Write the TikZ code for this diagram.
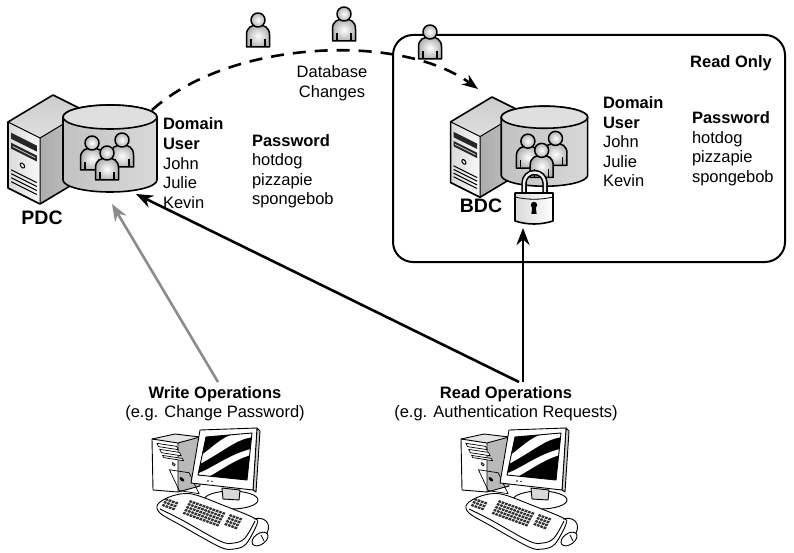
\documentclass[tikz,border=0pt]{standalone}
\usepackage{fontspec}
\setmainfont{Liberation Sans}
\usetikzlibrary{arrows.meta}

\definecolor{opgray}{RGB}{140,140,140}

\tikzset{
  outline/.style={draw=black, line width=1.6pt, line join=round},
  thinline/.style={draw=black, line width=0.9pt, line join=round},
  txt/.style={inner sep=0pt, outer sep=0pt, align=left, font=\fontsize{16.5}{19.5}\selectfont},
  txtbf/.style={txt, font=\fontsize{16.5}{19.5}\selectfont\bfseries},
  srvname/.style={inner sep=0pt, outer sep=0pt, font=\fontsize{19.5}{22}\selectfont\bfseries},
  oparrow/.style={line width=2.6pt, -{Stealth[length=17pt, width=13pt]}},
  syncarrow/.style={line width=2.6pt, dash pattern=on 13pt off 9pt, -{Stealth[length=16pt, width=12pt]}},
  iconfill/.style={inner color=white, outer color=gray!60},
  person/.pic={
    \path[outline, line width=1.5pt, iconfill]
      (-11.5,27) -- (-11.5,15) .. controls (-11.5,7) and (-6,5) .. (0,5)
      .. controls (6,5) and (11.5,7) .. (11.5,15) -- (11.5,27) -- cycle;
    \draw[line width=1.1pt] (-7,19) -- (-7,27) (7,19) -- (7,27);
    \path[outline, line width=1.5pt, iconfill] (0,0) circle[radius=7];
  },
}

% Tower server with its user database; origin at the back top corner of the tower
\newcommand\dbserver{%
  \path[left color=gray!65, right color=gray!45] (-13,43) -- (32,16) -- (32,82) -- (-13,109) -- cycle;
  \path[top color=gray!40, bottom color=gray!25] (0,0) -- (-45,27) -- (-13,43) -- (32,16) -- cycle;
  \path[left color=gray!30, right color=gray!5] (-45,27) -- (-13,43) -- (-13,109) -- (-45,93) -- cycle;
  \draw[line width=1pt] (-45,27) -- (-13,43) -- (32,16) (-13,43) -- (-13,109);
  \draw[outline] (0,0) -- (-45,27) -- (-45,93) -- (-13,109) -- (32,82) -- (32,16) -- cycle;
  \begin{scope}[shift={(-45,27)}, x={(32,16)}, y={(0,66)}]
    \fill[black!85] (0.1,0.14) -- (0.9,0.14) -- (0.9,0.23) -- (0.1,0.23) -- cycle;
    \fill[black!85] (0.1,0.29) -- (0.9,0.29) -- (0.9,0.38) -- (0.1,0.38) -- cycle;
    \draw[gray!40, line width=0.8pt] (0.15,0.335) -- (0.85,0.335);
    \draw[line width=1pt] (0.45,0.55) ellipse[x radius=0.07, y radius=0.035];
    \foreach \v in {0.70,0.76,0.82,0.88}
      \draw[line width=1pt] (0.1,\v) -- (0.9,\v);
  \end{scope}
  % database cylinder
  \path[outline, left color=gray!48, right color=gray!30]
    (10,22) -- (10,85) arc[start angle=180, end angle=0, x radius=47, y radius=12]
    -- (104,22) arc[start angle=0, end angle=-180, x radius=47, y radius=12] -- cycle;
  \path[outline, fill=gray!25] (57,22) ellipse[x radius=47, y radius=12];
  \pic at (39,48) {person};
  \pic at (69,45) {person};
  \pic at (54,58) {person};
}

% Desktop computer; origin at the top left of its bounding area
\newcommand\workstation{%
  % tower
  \path[fill=gray!55] (28,15) -- (50,9) -- (50,58) -- (28,64) -- cycle;
  \path[fill=gray!20] (2,11) -- (28,15) -- (50,9) -- (25,6) -- cycle;
  \path[fill=white] (2,11) -- (28,15) -- (28,64) -- (3,62) -- cycle;
  \draw[thinline] (2,11) -- (28,15) -- (50,9) (28,15) -- (28,64);
  \draw[thinline] (25,6) -- (2,11) -- (3,62) -- (28,64) -- (50,58) -- (50,9) -- cycle;
  \begin{scope}[shift={(2,11)}, x={(26,4)}, y={(1,51)}]
    \draw[line width=0.7pt, fill=white] (0.12,0.07) -- (0.88,0.07) -- (0.88,0.13) -- (0.12,0.13) -- cycle;
    \draw[line width=0.7pt, fill=white] (0.12,0.18) -- (0.88,0.18) -- (0.88,0.24) -- (0.12,0.24) -- cycle;
    \draw[line width=0.7pt, fill=white] (0.12,0.29) -- (0.88,0.29) -- (0.88,0.33) -- (0.12,0.33) -- cycle;
    \draw[line width=0.7pt] (0.4,0.43) ellipse[x radius=0.06, y radius=0.03];
    \draw[line width=0.7pt] (0.12,0.55) -- (0.88,0.55) -- (0.88,0.93) -- (0.12,0.93) -- cycle;
    \fill (0.45,0.7) ellipse[x radius=0.08, y radius=0.04];
  \end{scope}
  % monitor stand
  \draw[thinline, fill=white] (81,72) ellipse[x radius=27, y radius=9];
  \draw[thinline, fill=gray!30] (72,60) -- (90,62) -- (89,72) -- (73,71) -- cycle;
  % monitor
  \draw[thinline, fill=gray!40] (107,0) -- (110,3) -- (106,64) -- (103,62) -- cycle;
  \draw[thinline, fill=white] (50,2) -- (107,0) -- (103,62) -- (41,55) -- cycle;
  \begin{scope}
    \clip (56,9) -- (102,5) -- (97,52) -- (48,47) -- cycle;
    \fill[black] (40,0) rectangle (110,60);
    \fill[white] (44,31) .. controls (60,24) and (68,9) .. (88,5) -- (105,3) -- (105,9)
      .. controls (86,10) and (74,24) .. (44,39) -- cycle;
    \fill[white] (46,46) .. controls (64,40) and (78,26) .. (105,20) -- (105,26)
      .. controls (86,30) and (72,42) .. (56,50) -- cycle;
  \end{scope}
  \draw[thinline] (56,9) -- (102,5) -- (97,52) -- (48,47) -- cycle;
  \fill (58,53) circle[radius=0.8] (62,53.4) circle[radius=0.8];
  % keyboard
  \draw[thinline, fill=white] plot[smooth cycle, tension=0.55] coordinates
    {(8,76) (22,68) (42,66) (75,78) (104,90) (107,96) (96,116) (84,121) (70,119) (32,98) (10,85)};
  \draw[thinline] plot[smooth, tension=0.6] coordinates
    {(10,81) (32,92) (70,113) (84,115) (95,110) (105,93)};
  \begin{scope}[shift={(16,70)}, x={(1,0.36)}, y={(-0.45,1)}]
    \foreach \i in {0,...,3} \foreach \j in {0,1,2}
      \fill[black!80] (3.3*\i,3.5*\j) -- ++(2.5,0) -- ++(0,2.5) -- ++(-2.5,0) -- cycle;
  \end{scope}
  \begin{scope}[shift={(40,72)}, x={(1,0.36)}, y={(-0.45,1)}]
    \foreach \i in {0,...,10} \foreach \j in {0,...,4}
      \fill[black!80] (3.3*\i,3.5*\j) -- ++(2.5,0) -- ++(0,2.5) -- ++(-2.5,0) -- cycle;
  \end{scope}
  \begin{scope}[shift={(80,86)}, x={(1,0.36)}, y={(-0.45,1)}]
    \foreach \i in {0,...,3} \foreach \j in {0,...,3}
      \fill[black!80] (3.3*\i,3.5*\j) -- ++(2.5,0) -- ++(0,2.5) -- ++(-2.5,0) -- cycle;
  \end{scope}
  % mouse and cable
  \draw[thinline] (104,91) .. controls (114,88) and (122,95) .. (117,105);
  \draw[thinline, fill=white, rotate around={35:(110,111)}] (110,111) ellipse[x radius=9, y radius=5.5];
  \draw[line width=0.7pt] (111,107) -- (114,113);
}

\begin{document}
\begin{tikzpicture}[x=1pt, y=-1pt]
\path[fill=white] (0,0) rectangle (794,553);
\useasboundingbox (0,0) rectangle (794,553);

% read-only region of the backup controller
\draw[line width=2pt, rounded corners=20pt] (393,35) rectangle (785,262);
\node[txtbf, anchor=base] (readonly) at (731,68) {Read Only};

% primary and backup domain controllers
\begin{scope}[shift={(53,95)}] \dbserver \end{scope}
\begin{scope}[shift={(492,97)}, scale=0.92] \dbserver \end{scope}
\node[srvname, anchor=base] (pdc) at (42,225) {PDC};
\node[srvname, anchor=base] (bdc) at (481,213) {BDC};

% padlock on the backup database
\draw[line width=5.5pt] (524,195) -- (524,183) arc[start angle=180, end angle=360, radius=10.5] -- (545,195);
\draw[gray!15, line width=2.4pt] (524,195) -- (524,183) arc[start angle=180, end angle=360, radius=10.5] -- (545,195);
\path[outline, left color=gray!30, right color=white]
  (515,193) -- (553,193) -- (553,221) .. controls (540,225) and (528,225) .. (515,221) -- cycle;
\draw[line width=0.8pt] (515,197) .. controls (528,200) and (540,200) .. (553,197);
\fill (534,205) circle[radius=3.2];
\fill (532.3,206) -- (535.7,206) -- (536.6,214) -- (531.4,214) -- cycle;

% account tables (multi-line nodes sit on the baseline of their last line)
\node[txt, anchor=base west] (pdcusers) at (163,208)
  {\textbf{Domain}\\\textbf{User}\\John\\Julie\\Kevin};
\node[txt, anchor=base west] (pdcpw) at (252,204.5)
  {\textbf{Password}\\hotdog\\pizzapie\\spongebob};
\node[txt, anchor=base west] (bdcusers) at (603,187)
  {\textbf{Domain}\\\textbf{User}\\John\\Julie\\Kevin};
\node[txt, anchor=base west] (bdcpw) at (692,182.5)
  {\textbf{Password}\\hotdog\\pizzapie\\spongebob};

% replication path
\coordinate (syncstart) at (152,110);
\coordinate (syncend) at (478,89);
\draw[syncarrow] (syncstart) .. controls (230,40) and (400,32) .. (syncend);
\node[txt, align=center, anchor=base] (dbchanges) at (332,97.5) {Database\\Changes};
\pic at (258,20) {person};
\pic at (344,14) {person};
\pic at (430,32) {person};

% client requests
\node[txt, align=center, anchor=base] (writeop) at (215,417.5)
  {\textbf{Write Operations}\\(e.g. Change Password)};
\node[txt, align=center, anchor=base] (readop) at (506,417.5)
  {\textbf{Read Operations}\\(e.g. Authentication Requests)};
\coordinate (writesrc) at (218,382);
\coordinate (readsrc) at (519,382);
\coordinate (readsrcb) at (523,382);
\coordinate (pdcwrite) at (112,204);
\coordinate (pdcread) at (136,194);
\coordinate (lockin) at (523,228);
\draw[oparrow, draw=opgray] (writesrc) -- (pdcwrite);
\draw[oparrow] (readsrc) -- (pdcread);
\draw[oparrow] (readsrcb) -- (lockin);

% client workstations
\begin{scope}[shift={(150,428)}] \workstation \end{scope}
\begin{scope}[shift={(459,428)}] \workstation \end{scope}
\end{tikzpicture}
\end{document}
